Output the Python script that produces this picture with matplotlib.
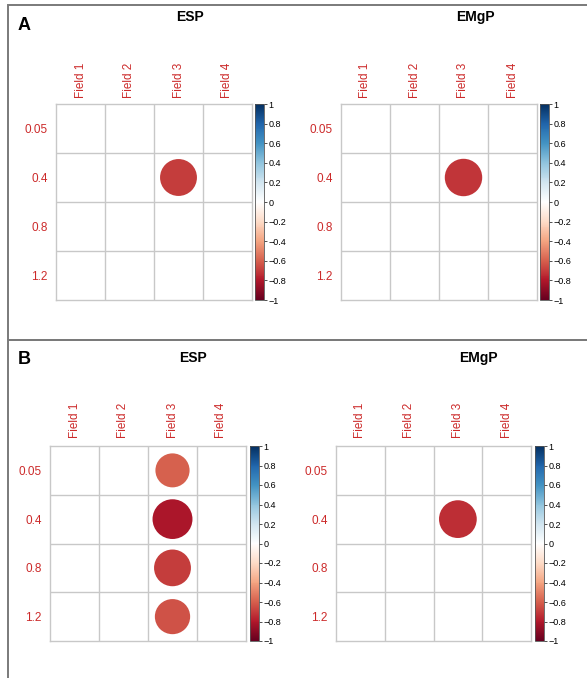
import matplotlib
matplotlib.use('Agg')
import matplotlib.pyplot as plt
import numpy as np
from matplotlib.colors import LinearSegmentedColormap, Normalize
from matplotlib.cm import ScalarMappable
from matplotlib.patches import Circle, Rectangle

plt.rcParams['font.family'] = ['Liberation Sans', 'DejaVu Sans']

W, H = 587, 678

fields = ['Field 1', 'Field 2', 'Field 3', 'Field 4']
levels = ['0.05', '0.4', '0.8', '1.2']

# correlation values (rows = levels, cols = fields)
a_esp = [[0, 0, 0, 0],
         [0, 0, -0.70, 0],
         [0, 0, 0, 0],
         [0, 0, 0, 0]]
a_emgp = [[0, 0, 0, 0],
          [0, 0, -0.72, 0],
          [0, 0, 0, 0],
          [0, 0, 0, 0]]
b_esp = [[0, 0, -0.60, 0],
         [0, 0, -0.82, 0],
         [0, 0, -0.70, 0],
         [0, 0, -0.64, 0]]
b_emgp = [[0, 0, 0, 0],
          [0, 0, -0.74, 0],
          [0, 0, 0, 0],
          [0, 0, 0, 0]]

cbar_ticks = [1, 0.8, 0.6, 0.4, 0.2, 0, -0.2, -0.4, -0.6, -0.8, -1]

# corrplot RdBu palette
rdbu = ["#67001F", "#B2182B", "#D6604D", "#F4A582", "#FDDBC7", "#FFFFFF",
        "#D1E5F0", "#92C5DE", "#4393C3", "#2166AC", "#053061"]
cmap = LinearSegmentedColormap.from_list('corr', rdbu, N=200)
norm = Normalize(-1, 1)

label_red = '#cc2a2a'


def px_rect(x0, y0, x1, y1):
    return [x0 / W, 1 - y1 / H, (x1 - x0) / W, (y1 - y0) / H]


def corr_panel(fig, mat, grid, cbar, title, title_xy, col_pad, row_pad):
    ax = fig.add_axes(px_rect(*grid))
    mat = np.array(mat)
    n_r, n_c = mat.shape
    ax.set_xlim(0, n_c)
    ax.set_ylim(n_r, 0)
    for k in range(1, n_c):
        ax.axvline(k, color='#c8c8c8', lw=1)
    for k in range(1, n_r):
        ax.axhline(k, color='#c8c8c8', lw=1)
    for s in ax.spines.values():
        s.set_color('#c8c8c8')
        s.set_linewidth(1)
    for i in range(n_r):
        for j in range(n_c):
            v = mat[i, j]
            if v != 0:
                ax.add_patch(Circle((j + 0.5, i + 0.5), 0.45 * np.sqrt(abs(v)),
                                    facecolor=cmap(norm(v)), edgecolor='none'))
    ax.xaxis.tick_top()
    ax.set_xticks(np.arange(n_c) + 0.5)
    ax.set_xticklabels(fields, rotation=90, color=label_red, fontsize=8.5)
    ax.set_yticks(np.arange(n_r) + 0.5)
    ax.set_yticklabels(levels, color=label_red, fontsize=8.5)
    ax.tick_params(axis='x', length=0, pad=col_pad)
    ax.tick_params(axis='y', length=0, pad=row_pad)

    cax = fig.add_axes(px_rect(*cbar))
    cb = fig.colorbar(ScalarMappable(norm=norm, cmap=cmap), cax=cax, ticks=cbar_ticks)
    cb.ax.set_yticklabels([f'{t:g}'.replace('-', '\u2212') for t in cbar_ticks])
    cb.ax.tick_params(labelsize=6.5, length=2, width=0.6, pad=1, color='#333333')
    cb.outline.set_linewidth(0.6)
    cb.outline.set_edgecolor('#555555')

    fig.text(title_xy[0] / W, 1 - title_xy[1] / H, title, ha='center', va='center',
             fontsize=10, fontweight='bold')


fig = plt.figure(figsize=(W / 100, H / 100), dpi=100)

# panel frames
fig.add_artist(Rectangle((8 / W, 1 - 340 / H), 600 / W, 335 / H, transform=fig.transFigure,
                         fill=False, edgecolor='#7a7a7a', lw=1.4))
fig.add_artist(Rectangle((8 / W, 1 - 700 / H), 600 / W, 360 / H, transform=fig.transFigure,
                         fill=False, edgecolor='#7a7a7a', lw=1.4))

corr_panel(fig, a_esp, (56, 104, 252, 300), (255, 104, 264, 300), 'ESP', (190, 17), 4, 6)
corr_panel(fig, a_emgp, (341, 104, 537, 300), (540, 104, 549, 300), 'EMgP', (475, 17), 4, 6)
corr_panel(fig, b_esp, (50, 446, 246, 641), (250, 446, 259, 641), 'ESP', (193, 358), 6, 6)
corr_panel(fig, b_emgp, (336, 446, 531, 641), (535, 446, 544, 641), 'EMgP', (478, 358), 6, 6)

fig.text(18 / W, 1 - 26 / H, 'A', ha='left', va='center', fontsize=13, fontweight='bold')
fig.text(18 / W, 1 - 359 / H, 'B', ha='left', va='center', fontsize=13, fontweight='bold')

fig.savefig('out.png', dpi=100)
